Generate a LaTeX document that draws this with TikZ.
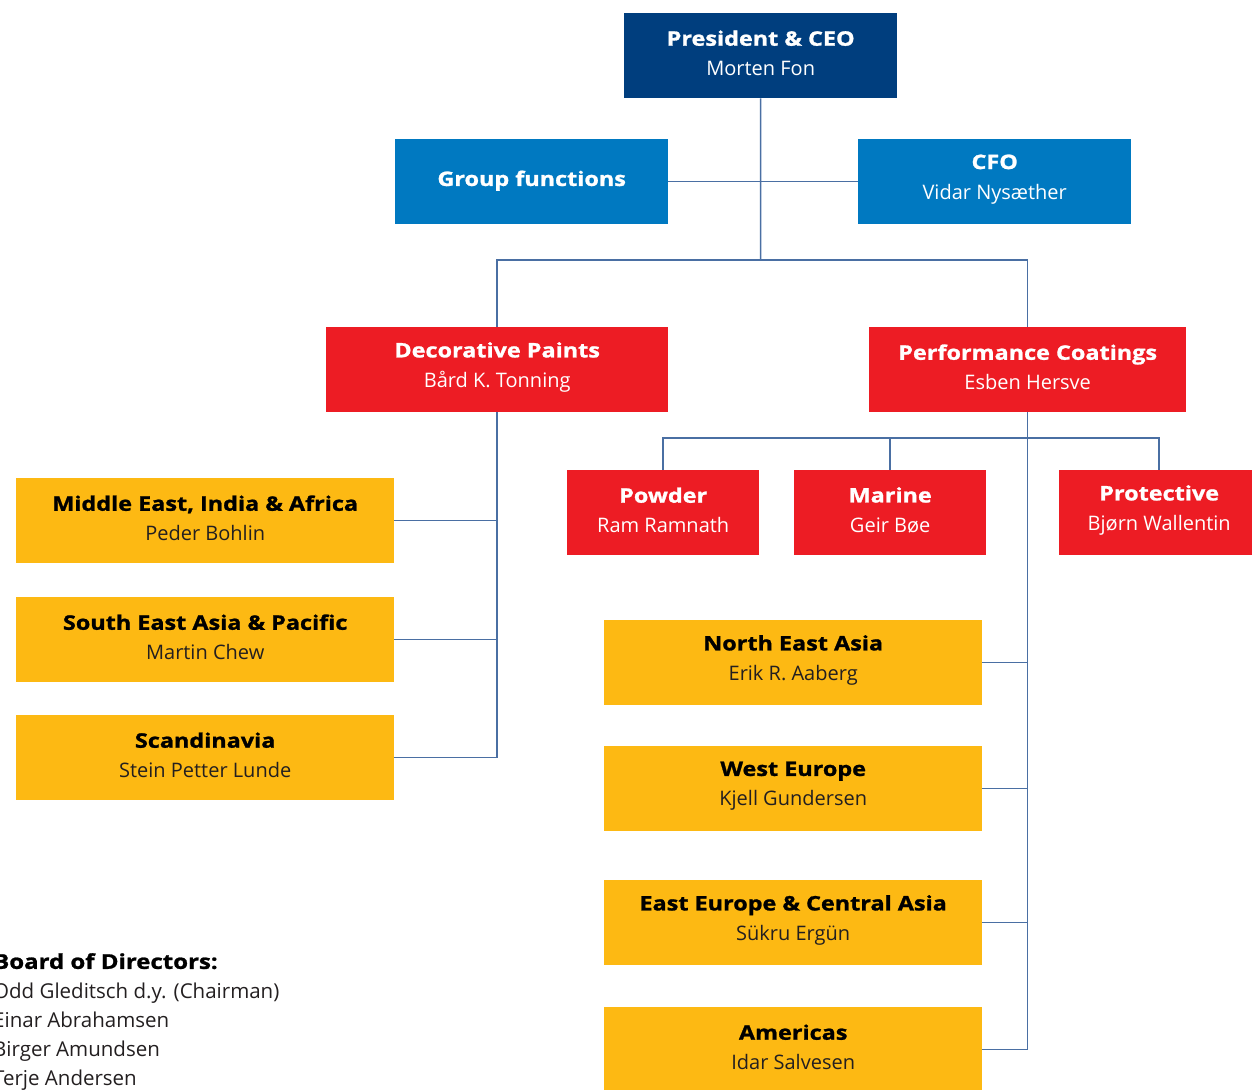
\documentclass[tikz,border=0pt]{standalone}
\usepackage{fontspec}
\setmainfont{Open Sans}[BoldFeatures={FakeStretch=1.17,FakeBold=1.2}]
\definecolor{dkblue}{HTML}{003E7E}
\definecolor{mdblue}{HTML}{0079C1}
\definecolor{cred}{HTML}{ED1C24}
\definecolor{cyel}{HTML}{FDB913}
\definecolor{cline}{HTML}{4A6FA3}
\definecolor{ctext}{HTML}{231F20}
\tikzset{
  box/.style={anchor=north west, inner sep=0pt, minimum height=85pt},
  lbl/.style={inner sep=0pt, align=center, yshift=2.5pt, font=\fontsize{20}{30}\selectfont},
  txt/.style={label={[lbl]center:{#1}}},
  ceobox/.style={box, fill=dkblue, minimum width=273pt},
  bluebox/.style={box, fill=mdblue, minimum width=273pt},
  redbox/.style={box, fill=cred},
  yelbox/.style={box, fill=cyel, minimum width=378pt},
  conn/.style={draw=cline, line width=1.5pt},
}
\newcommand{\hd}[1]{{\bfseries #1}}
\newcommand{\wh}[1]{\textcolor{white}{#1}}
\newcommand{\nm}[1]{\textcolor{ctext}{#1}}
\begin{document}
\begin{tikzpicture}[x=1pt,y=-1pt]
\useasboundingbox (0,0) rectangle (1252,1089);
% top
\node[ceobox, txt={\wh{\hd{President \& CEO}}\\\wh{Morten Fon}}] (ceo) at (624,13) {};
\node[bluebox, label={[lbl, yshift=-1.5pt]center:{\wh{\hd{Group functions}}}}] (gf) at (395,139) {};
\node[bluebox, txt={\wh{\hd{CFO}}\\\wh{Vidar Nysæther}}] (cfo) at (858,139) {};
% divisions
\node[redbox, minimum width=342pt, txt={\wh{\hd{Decorative Paints}}\\\wh{Bård K. Tonning}}] (dp) at (326,327) {};
\node[redbox, minimum width=317pt, txt={\wh{\hd{Performance Coatings}}\\\wh{Esben Hersve}}] (pc) at (869,327) {};
% sub-divisions
\node[redbox, minimum width=192pt, txt={\wh{\hd{Powder}}\\\wh{Ram Ramnath}}] (pw) at (567,470) {};
\node[redbox, minimum width=192pt, txt={\wh{\hd{Marine}}\\\wh{Geir Bøe}}] (ma) at (794,470) {};
\node[redbox, minimum width=200pt, txt={\wh{\hd{Protective}}\\\wh{Bjørn Wallentin}}] (pr) at (1059,470) {};
% left regions
\node[yelbox, txt={\hd{Middle East, India \& Africa}\\\nm{Peder Bohlin}}] (me) at (16,478) {};
\node[yelbox, txt={\hd{South East Asia \& Pacific}\\\nm{Martin Chew}}] (sea) at (16,597) {};
\node[yelbox, txt={\hd{Scandinavia}\\\nm{Stein Petter Lunde}}] (sc) at (16,715) {};
% right regions
\node[yelbox, txt={\hd{North East Asia}\\\nm{Erik R. Aaberg}}] (ne) at (604,620) {};
\node[yelbox, txt={\hd{West Europe}\\\nm{Kjell Gundersen}}] (we) at (604,746) {};
\node[yelbox, txt={\hd{East Europe \& Central Asia}\\\nm{Sükru Ergün}}] (ee) at (604,880) {};
\node[yelbox, txt={\hd{Americas}\\\nm{Idar Salvesen}}] (am) at (604,1007) {};
% board
\node[anchor=north west, inner sep=0pt, align=left, font=\fontsize{20.5}{29.2}\selectfont] (board) at (-7,953)
  {\hd{Board of Directors:}\\\nm{Odd Gleditsch d.y. (Chairman)}\\\nm{Einar Abrahamsen}\\\nm{Birger Amundsen}\\\nm{Terje Andersen}};
% connectors
\coordinate (bar) at (760.5,260);
\coordinate (pbar) at (1027.5,438);
\draw[conn] (ceo.south) -- (bar);
\draw[conn] (gf.east) -- (cfo.west);
\draw[conn] (dp.north) |- (bar) -| (pc.north);
\draw[conn] (me.east) -| (dp.south);
\draw[conn] (sea.east) -| (dp.south);
\draw[conn] (sc.east) -| (dp.south);
\draw[conn] (pw.north) |- (pbar) -| (pr.north);
\draw[conn] (ma.north) -- (ma.north |- pbar);
\draw[conn] (ne.east) -| (pc.south);
\draw[conn] (we.east) -| (pc.south);
\draw[conn] (ee.east) -| (pc.south);
\draw[conn] (am.east) -| (pc.south);
\end{tikzpicture}
\end{document}
